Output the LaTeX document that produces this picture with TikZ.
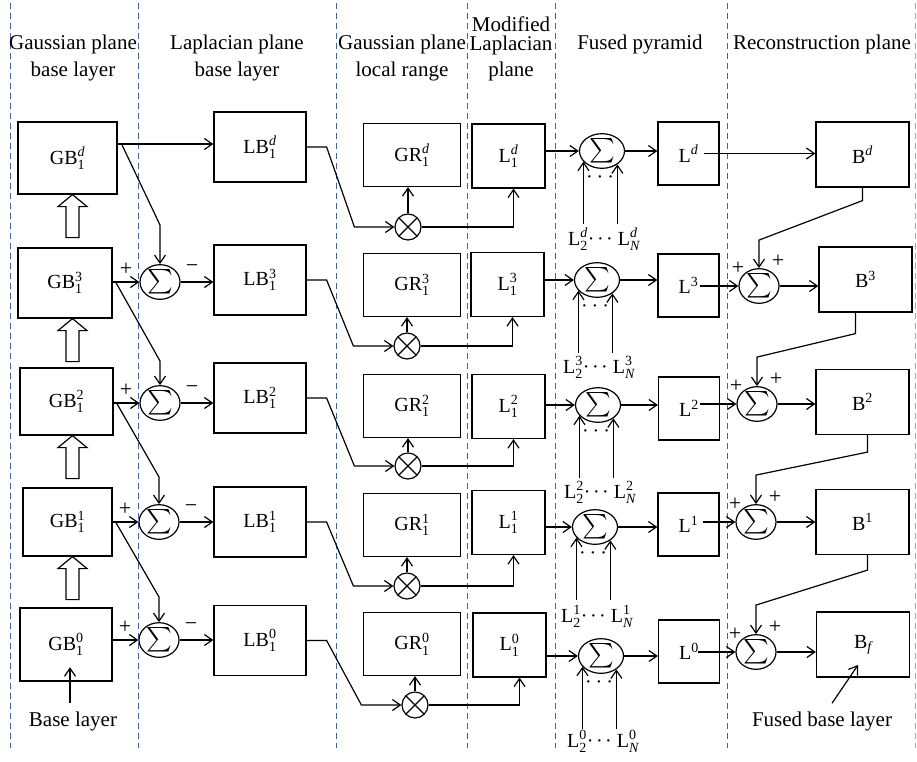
\documentclass[tikz,border=0pt]{standalone}
\usepackage{fontspec}
\setmainfont{Liberation Serif}
\usepackage{amsmath}
\usetikzlibrary{arrows.meta,shapes.geometric,calc}
\definecolor{dashblue}{RGB}{65,95,185}
\newcommand\sumsym{{\normalsize\scalebox{2.45}{$\sum$}}}
\newcommand\ssb[2]{$^{#1}_{#2}$}
\newcommand\lbldots{·\hspace{2.5pt}·\hspace{2.5pt}·}
\newcommand\rowdots{·\hspace{4pt}·\hspace{4pt}·}
\begin{document}
\begin{tikzpicture}[x=1pt,y=-1pt,
  every node/.style={font=\fontsize{20}{24}\selectfont},
  blk/.style={draw,line width=1.2pt,inner sep=0pt},
  sumnode/.style={ellipse,draw,line width=1.2pt,inner sep=0pt,minimum width=40pt,minimum height=32pt},
  fsum/.style={sumnode,minimum width=45pt,minimum height=33pt},
  mul/.style={circle,draw,line width=1.2pt,inner sep=0pt,minimum size=26pt,
    path picture={\draw[line width=1.2pt] (path picture bounding box.north west)--(path picture bounding box.south east) (path picture bounding box.north east)--(path picture bounding box.south west);}},
  arr/.style={line width=1.2pt,-{Straight Barb[length=8pt,width=11pt]}},
  sep/.style={dashblue,line width=1pt,dash pattern=on 6pt off 4pt},
  hdr/.style={font=\fontsize{21}{25}\selectfont,anchor=base,inner sep=0pt},
  sgn/.style={font=\fontsize{22}{24}\selectfont,inner sep=0pt},
  lbl/.style={anchor=base,inner sep=0pt},
  holarrow/.pic={\draw[line width=1.2pt] (-6.5,43) -- (-6.5,12) -- (-14.5,12) -- (0,0) -- (14.5,12) -- (6.5,12) -- (6.5,43) -- cycle;}
]
\useasboundingbox (0,0) rectangle (917,761);

% separators
\foreach \xx in {10,138,336,467,555,727} \draw[sep] (\xx,3) -- (\xx,748);
\draw[sep,color=dashblue!55] (915.5,3) -- (915.5,748);

% headers
\node[hdr] (h1a) at (73,49) {Gaussian plane};
\node[hdr] (h1b) at (73,76) {base layer};
\node[hdr] (h2a) at (237,49) {Laplacian plane};
\node[hdr] (h2b) at (237,76) {base layer};
\node[hdr] (h3a) at (402,49) {Gaussian plane};
\node[hdr] (h3b) at (402,76) {local range};
\node[hdr] (h4a) at (511,31) {Modified};
\node[hdr] (h4b) at (511,50) {Laplacian};
\node[hdr] (h4c) at (511,76) {plane};
\node[hdr] (h5) at (640,49) {Fused pyramid};
\node[hdr] (h6) at (822,49) {Reconstruction plane};

% Gaussian base boxes
\node[blk,minimum width=99pt,minimum height=72pt] (GBd) at (67.5,158) {GB\ssb{\textit{d}}{\text{1}}};
\node[blk,minimum width=94pt,minimum height=70pt] (GB3) at (65,283) {GB\ssb{\text{3}}{\text{1}}};
\node[blk,minimum width=93pt,minimum height=67pt] (GB2) at (66.5,401.5) {GB\ssb{\text{2}}{\text{1}}};
\node[blk,minimum width=89pt,minimum height=68pt] (GB1) at (67.5,522) {GB\ssb{\text{1}}{\text{1}}};
\node[blk,minimum width=92pt,minimum height=73pt] (GB0) at (66,644.5) {GB\ssb{\text{0}}{\text{1}}};

\pic at ($(GBd.south)+(5,0)$) {holarrow};
\pic at ($(GB3.south)+(7.5,0)$) {holarrow};
\pic at ($(GB2.south)+(6,0)$) {holarrow};
\pic at ($(GB1.south)+(5,0)$) {holarrow};

% difference sums
\node[sumnode] (S3) at (160,282) {\sumsym};
\node[sumnode] (S2) at (160,403) {\sumsym};
\node[sumnode] (S1) at (159,522) {\sumsym};
\node[sumnode] (S0) at (159,640) {\sumsym};

% Laplacian base boxes
\node[blk,minimum width=92pt,minimum height=70pt] (LBd) at (260,147) {LB\ssb{\textit{d}}{\text{1}}};
\node[blk,minimum width=92pt,minimum height=70pt] (LB3) at (260,280) {LB\ssb{\text{3}}{\text{1}}};
\node[blk,minimum width=92pt,minimum height=70pt] (LB2) at (260,398) {LB\ssb{\text{2}}{\text{1}}};
\node[blk,minimum width=92pt,minimum height=70pt] (LB1) at (260,522) {LB\ssb{\text{1}}{\text{1}}};
\node[blk,minimum width=92pt,minimum height=70pt] (LB0) at (260,640.5) {LB\ssb{\text{0}}{\text{1}}};

% local range boxes
\node[blk,minimum width=97pt,minimum height=63pt] (GRd) at (412,155) {GR\ssb{\textit{d}}{\text{1}}};
\node[blk,minimum width=97pt,minimum height=63pt] (GR3) at (412,285) {GR\ssb{\text{3}}{\text{1}}};
\node[blk,minimum width=97pt,minimum height=63pt] (GR2) at (412,406) {GR\ssb{\text{2}}{\text{1}}};
\node[blk,minimum width=97pt,minimum height=63pt] (GR1) at (412,525) {GR\ssb{\text{1}}{\text{1}}};
\node[blk,minimum width=97pt,minimum height=63pt] (GR0) at (412,644) {GR\ssb{\text{0}}{\text{1}}};

% multipliers
\node[mul] (Md) at (408,227) {};
\node[mul] (M3) at (407,346) {};
\node[mul] (M2) at (408,466) {};
\node[mul] (M1) at (407,586) {};
\node[mul] (M0) at (415,705) {};

% modified Laplacian boxes
\node[blk,minimum width=73pt,minimum height=64pt] (L1d) at (508.5,156) {L\ssb{\textit{d}}{\text{1}}};
\node[blk,minimum width=73pt,minimum height=64pt] (L13) at (507.5,284.5) {L\ssb{\text{3}}{\text{1}}};
\node[blk,minimum width=73pt,minimum height=64pt] (L12) at (508.5,406.5) {L\ssb{\text{2}}{\text{1}}};
\node[blk,minimum width=73pt,minimum height=64pt] (L11) at (508.5,522.5) {L\ssb{\text{1}}{\text{1}}};
\node[blk,minimum width=73pt,minimum height=64pt] (L10) at (509.5,645) {L\ssb{\text{0}}{\text{1}}};

% fused sums
\node[fsum] (Fd) at (602,151) {\sumsym};
\node[fsum] (F3) at (597,280) {\sumsym};
\node[fsum] (F2) at (598,405) {\sumsym};
\node[fsum] (F1) at (595,527) {\sumsym};
\node[fsum] (F0) at (601,656) {\sumsym};

% fused pyramid boxes
\node[blk,minimum width=61pt,minimum height=63pt] (FLd) at (688.5,153.5) {L$^{\textit{d}}$};
\node[blk,minimum width=61pt,minimum height=63pt] (FL3) at (688.5,285.5) {L$^{\text{3}}$};
\node[blk,minimum width=61pt,minimum height=63pt] (FL2) at (689,408.5) {L$^{\text{2}}$};
\node[blk,minimum width=61pt,minimum height=63pt] (FL1) at (688.5,524.5) {L$^{\text{1}}$};
\node[blk,minimum width=61pt,minimum height=63pt] (FL0) at (689,651.5) {L$^{\text{0}}$};

% reconstruction sums
\node[sumnode] (R3) at (759,286) {\sumsym};
\node[sumnode] (R2) at (757,404) {\sumsym};
\node[sumnode] (R1) at (756,522) {\sumsym};
\node[sumnode] (R0) at (756,652) {\sumsym};

% reconstruction boxes
\node[blk,minimum width=93pt,minimum height=65pt] (Bd) at (862.5,154.5) {B$^{\textit{d}}$};
\node[blk,minimum width=93pt,minimum height=65pt] (B3) at (865.5,279.5) {B$^{\text{3}}$};
\node[blk,minimum width=93pt,minimum height=65pt] (B2) at (862.5,402) {B$^{\text{2}}$};
\node[blk,minimum width=93pt,minimum height=65pt] (B1) at (862.5,522) {B$^{\text{1}}$};
\node[blk,minimum width=93pt,minimum height=65pt] (Bf) at (863,644.5) {B$_{\textit{f}}$};

% bottom labels
\node[lbl,font=\fontsize{21}{25}\selectfont] (bl) at (73,726) {Base layer};
\node[lbl,font=\fontsize{21}{25}\selectfont] (fbl) at (822,726) {Fused base layer};
\draw[arr] ($(bl.north)+(-3,-8)$) -- ++(0,-36);
\draw[arr] ($(fbl.north)+(10,-8)$) -- ($(Bf.center)+(-5,20.5)$);

% ---------- column 1 -> 2 ----------
\coordinate (ad) at ($(GBd.east)+(0,-14)$);
\draw[arr] (ad) -- (ad -| LBd.west);
\coordinate (kd) at (160,225);
\coordinate (k3) at (160,361);
\coordinate (k2) at (159,477);
\coordinate (k1) at (159,597);
\draw[arr] ($(ad)+(4,0)$) -- (kd) -- (S3.north);
\draw[arr] ($(S3.west -| GB3.east)+(3,0)$) -- (k3) -- (S2.north);
\draw[arr] ($(S2.west -| GB2.east)+(3,0)$) -- (k2) -- (S1.north);
\draw[arr] ($(S1.west -| GB1.east)+(3,0)$) -- (k1) -- (S0.north);
\foreach \s/\g/\l in {S3/GB3/LB3,S2/GB2/LB2,S1/GB1/LB1,S0/GB0/LB0}{
  \draw[arr] (\s.west -| \g.east) -- (\s.west);
  \draw[arr] (\s.east) -- (\s.east -| \l.west);
  \node[sgn] at ($(\s.center)+(-34,-13)$) {+};
  \node[sgn] at ($(\s.center)+(32,-13)$) {−};
}

% ---------- column 2 -> multipliers -> modified ----------
\foreach \l/\m/\g/\q/\dx in {LBd/Md/GRd/L1d/5,LB3/M3/GR3/L13/5,LB2/M2/GR2/L12/5,LB1/M1/GR1/L11/5,LB0/M0/GR0/L10/10}{
  \draw[arr] (\l.east) -- ++(20,0) -- ($(\m.west)+(-40,0)$) -- (\m.west);
  \draw[arr] (\m.north) -- (\m.north |- \g.south);
  \draw[arr] (\m.east) -| ($(\q.south)+(\dx,0)$);
}

% ---------- fused pyramid ----------
\foreach \q/\f/\p in {L1d/Fd/FLd,L13/F3/FL3,L12/F2/FL2,L11/F1/FL1,L10/F0/FL0}{
  \draw[arr] (\f.west -| \q.east) -- (\f.west);
  \draw[arr] ($(\f.210)+(0,62)$) -- (\f.210);
  \draw[arr] ($(\f.319)+(0,59.5)$) -- (\f.319);
  \node[inner sep=0pt] at ($(\f.center)+(-2,29)$) {\rowdots};
  \draw[arr] (\f.east) -- (\f.east -| \p.west);
}
\node[lbl] (ld) at ($(Fd.center)+(2,94)$) {L\ssb{\textit{d}}{\text{2}}\lbldots\ L\ssb{\textit{d}}{\textit{N}}};
\node[lbl] (l3) at ($(F3.center)+(2,93)$) {L\ssb{\text{3}}{\text{2}}\lbldots\ L\ssb{\text{3}}{\textit{N}}};
\node[lbl] (l2) at ($(F2.center)+(2,93)$) {L\ssb{\text{2}}{\text{2}}\lbldots\ L\ssb{\text{2}}{\textit{N}}};
\node[lbl] (l1) at ($(F1.center)+(2,95)$) {L\ssb{\text{1}}{\text{2}}\lbldots\ L\ssb{\text{1}}{\textit{N}}};
\node[lbl] (l0) at ($(F0.center)+(2,91)$) {L\ssb{\text{0}}{\text{2}}\lbldots\ L\ssb{\text{0}}{\textit{N}}};

% ---------- reconstruction ----------
\coordinate (od) at ($(FLd.center)+(15,0)$);
\draw[arr] (od) -- (od -| Bd.west);
\coordinate (o3) at ($(FL3.center)+(11,0)$);
\coordinate (o2) at ($(FL2.center)+(11,0)$);
\coordinate (o1) at ($(FL1.center)+(14,0)$);
\coordinate (o0) at ($(FL0.center)+(9,0)$);
\foreach \r/\o/\b in {R3/o3/B3,R2/o2/B2,R1/o1/B1,R0/o0/Bf}{
  \draw[arr] (\r.west -| \o) -- (\r.west);
  \draw[arr] (\r.east) -- (\r.east -| \b.west);
  \node[sgn] at ($(\r.center)+(-21,-18)$) {+};
  \node[sgn] at ($(\r.center)+(19,-25)$) {+};
}
\draw[arr] (Bd.south) -- ++(0,13) -- ($(R3.north)+(0,-28)$) -- (R3.north);
\draw[arr] ($(B3.south)+(-10,0)$) -- ++(0,21) -- ($(R2.north)+(0,-29)$) -- (R2.north);
\draw[arr] ($(B2.south)+(5,0)$) -- ++(0,17) -- ($(R1.north)+(0,-29)$) -- (R1.north);
\draw[arr] ($(B1.south)+(5,0)$) -- ++(0,15) -- ($(R0.north)+(0,-29)$) -- (R0.north);
\end{tikzpicture}
\end{document}
